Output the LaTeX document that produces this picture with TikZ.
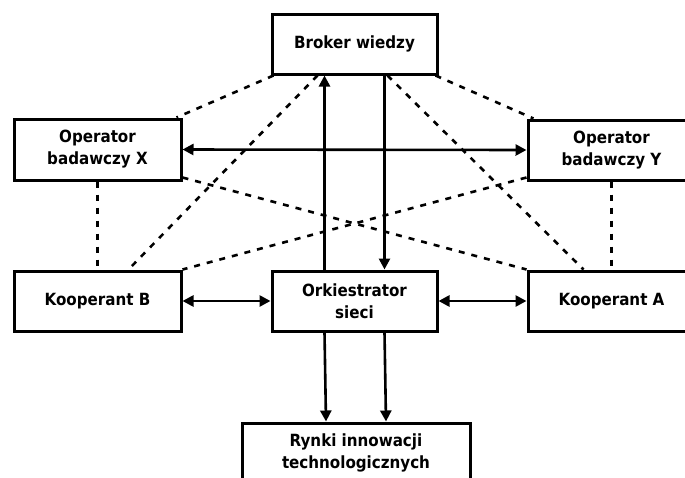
\documentclass[tikz,border=0pt]{standalone}
\usepackage{fontspec}
\setmainfont{DejaVu Sans Condensed}[BoldFont={DejaVu Sans Condensed Bold}]
\usetikzlibrary{arrows.meta}
\begin{document}
\begin{tikzpicture}[x=1pt,y=-1pt,
  box/.style={draw,line width=3pt,fill=white,inner sep=0pt,align=center,
    font=\fontsize{16.8}{22}\selectfont\bfseries},
  arr/.style={line width=2.6pt,-{Triangle[length=11pt,width=11pt]}},
  darr/.style={line width=2.6pt,{Triangle[length=11pt,width=11pt]}-{Triangle[length=11pt,width=11pt]}},
  dsh/.style={line width=2.6pt,dash pattern=on 6pt off 7pt}]
\clip (0,0) rectangle (685,477);
\useasboundingbox (0,0) rectangle (685,477);
\node[box,minimum width=165pt,minimum height=60pt] (broker) at (354.5,44) {Broker wiedzy};
\node[box,minimum width=167pt,minimum height=61pt] (opX) at (97.5,149.5) {Operator\\badawczy X};
\node[box,minimum width=167pt,minimum height=60pt] (opY) at (611.5,150) {Operator\\badawczy Y};
\node[box,minimum width=167pt,minimum height=60pt] (koopB) at (97.5,301) {Kooperant B};
\node[box,minimum width=165pt,minimum height=60pt] (orch) at (354.5,301) {Orkiestrator\\sieci};
\node[box,minimum width=167pt,minimum height=60pt] (koopA) at (611.5,301) {Kooperant A};
\node[box,minimum width=228pt,minimum height=60pt] (rynki) at (356,453) {Rynki innowacji\\technologicznych};
% solid arrows
\draw[arr] ([xshift=-30pt]orch.north) -- ([xshift=-30pt]broker.south);
\draw[arr] ([xshift=30pt]broker.south) -- ([xshift=30pt]orch.north);
\draw[darr] (opX.east) -- (opY.west);
\draw[darr] (koopB.east) -- (orch.west);
\draw[darr] (orch.east) -- (koopA.west);
\draw[arr] ([xshift=-30pt]orch.south) -- ([xshift=-30pt]rynki.north);
\draw[arr] ([xshift=30pt]orch.south) -- ([xshift=30pt]rynki.north);
% dashed relations
\draw[dsh] ([xshift=3pt]broker.south west) -- ([xshift=-6pt]opX.north east);
\draw[dsh] ([xshift=-37pt]broker.south) -- ([xshift=31pt]koopB.north);
\draw[dsh] ([xshift=-3pt]broker.south east) -- ([xshift=7pt]opY.north west);
\draw[dsh] ([xshift=33pt]broker.south) -- ([xshift=-28pt]koopA.north);
\draw[dsh] ([yshift=4pt]opX.south east) -- (koopA.north west);
\draw[dsh] ([yshift=4pt]opY.south west) -- (koopB.north east);
\draw[dsh] (opX.south) -- (koopB.north);
\draw[dsh] (opY.south) -- (koopA.north);
\end{tikzpicture}
\end{document}
